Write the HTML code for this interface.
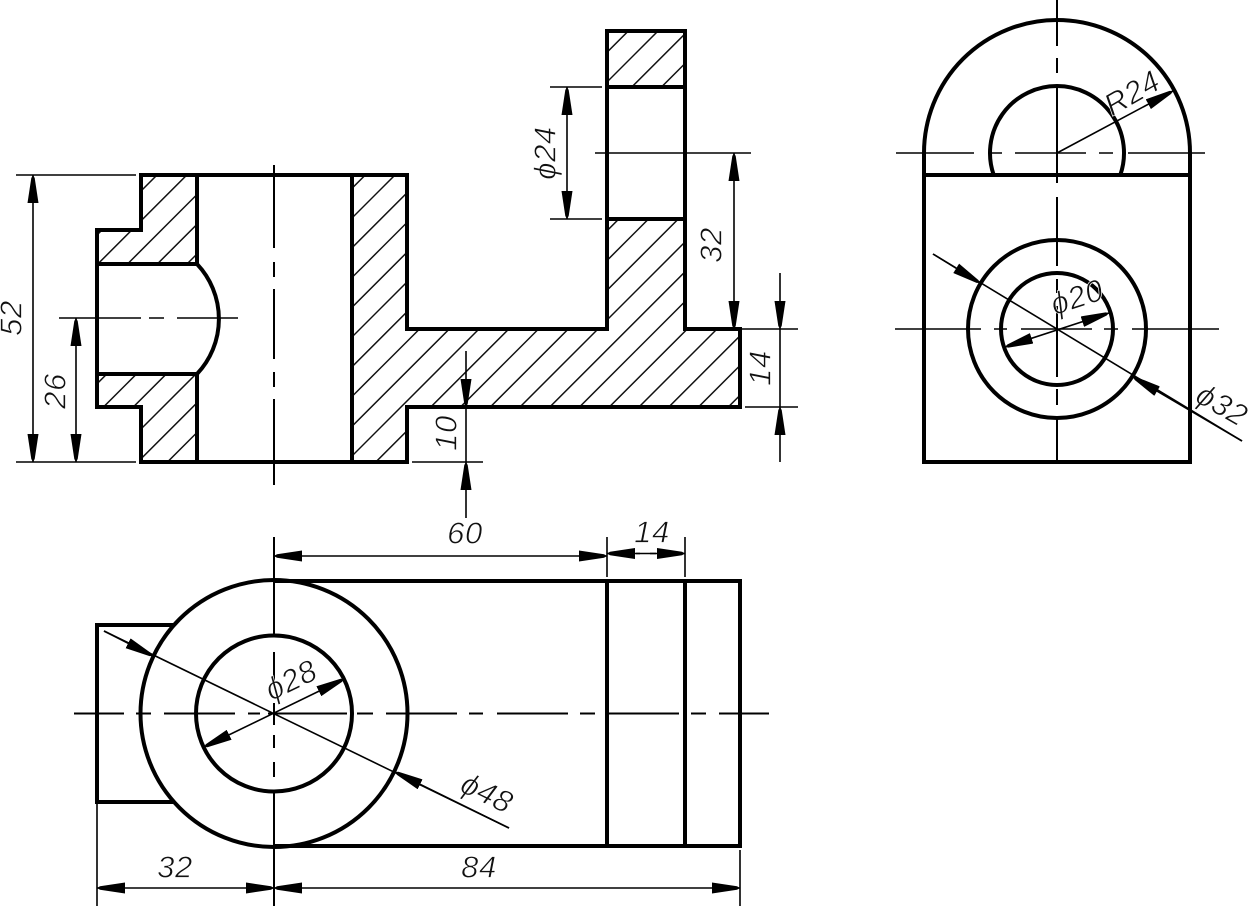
<!DOCTYPE html>
<html>
<head>
<meta charset="utf-8">
<style>
html,body{margin:0;padding:0;background:#fff;width:1248px;height:907px;overflow:hidden}
svg{display:block;overflow:hidden}
text{font-family:"Liberation Sans","DejaVu Sans",sans-serif;font-style:italic;font-size:31px;letter-spacing:.6px;fill:#111;stroke:#fff;stroke-width:.7px;text-anchor:middle;dominant-baseline:central}
.k{fill:none;stroke:#000;stroke-width:4;stroke-linejoin:miter}
.t{fill:none;stroke:#000;stroke-width:1.6}
.c{fill:none;stroke:#000;stroke-width:2}
.h{fill:none;stroke:#111;stroke-width:1.5}
.a{stroke:#000;stroke-width:1.6;fill:none;marker-end:url(#ah)}
.b{stroke:#000;stroke-width:1.6;fill:none;marker-start:url(#ah);marker-end:url(#ah)}
</style>
</head>
<body>
<svg width="1248" height="907" viewBox="0 0 1248 907" xmlns="http://www.w3.org/2000/svg">
<defs>
<marker id="ah" viewBox="0 0 28 11" refX="28" refY="5.5" markerWidth="28" markerHeight="11" markerUnits="userSpaceOnUse" orient="auto-start-reverse">
<polygon points="0,0 25,3.800 28,5.500 25,7.200 0,11" fill="#000"/>
</marker>
<clipPath id="hc">
<polygon points="141,175 197,175 197,264 97,264 97,230 141,230"/>
<polygon points="97,374 197,374 197,462 141,462 141,407 97,407"/>
<polygon points="352,175 407,175 407,329 607,329 607,219 685,219 685,329 740,329 740,407 407,407 407,462 352,462"/>
<polygon points="607,31 685,31 685,87 607,87"/>
</clipPath>
</defs>
<rect width="1248" height="907" fill="#fff"/>

<!-- hatching -->
<path class="h" clip-path="url(#hc)" d="M0 332L332 0M0 361.8L361.8 0M0 391.5L391.5 0M0 421.3L421.3 0M0 451L451 0M10.8 470L480.8 0M40.5 470L510.5 0M70.3 470L540.3 0M100 470L570 0M129.8 470L599.8 0M159.5 470L629.5 0M189.3 470L659.3 0M219 470L689 0M248.8 470L718.8 0M278.5 470L748.5 0M308.3 470L778.3 0M338 470L808 0M367.8 470L837.8 0M397.5 470L867.5 0M427.3 470L897.3 0M457 470L927 0M486.8 470L956.8 0M516.5 470L986.5 0M546.3 470L1016.3 0M576 470L1046 0M605.8 470L1075.8 0M635.5 470L1105.5 0M665.3 470L1135.3 0"/>

<!-- front view outline -->
<path class="k" d="M141 175H407V329H607V31H685V329H740V407H407V462H141V407H97V230H141Z"/>
<path class="k" d="M197 175V264M197 374V462M352 175V462M97 264H197A80 80 0 0 1 197 374H97M607 87H685M607 219H685"/>

<!-- front view centre lines -->
<path class="c" d="M274 165V248M274 262V277M274 289V359M274 372V387M274 399V485"/>
<path class="t" d="M59 318H141M149 318H164M177 318H238M595 153H751"/>

<!-- front view dimensions -->
<path class="t" d="M16 175H136M16 462H136M550 87H602M550 219H602M742 329H798M745 407H798M412 462H483"/>
<line class="b" x1="33" y1="175" x2="33" y2="462"/>
<line class="b" x1="76" y1="318" x2="76" y2="462"/>
<line class="b" x1="567" y1="87" x2="567" y2="219"/>
<line class="b" x1="734" y1="153" x2="734" y2="329"/>
<line class="a" x1="780" y1="273" x2="780" y2="329"/>
<line class="a" x1="780" y1="462" x2="780" y2="407"/>
<path class="t" d="M780 329V407"/>
<line class="a" x1="466" y1="351" x2="466" y2="407"/>
<line class="a" x1="466" y1="518" x2="466" y2="462"/>
<path class="t" d="M466 407V462"/>
<text transform="translate(11,318) rotate(-90)">52</text>
<text transform="translate(55,391) rotate(-90)">26</text>
<text transform="translate(545,153) rotate(-90)">ϕ24</text>
<text transform="translate(711,245) rotate(-90)">32</text>
<text transform="translate(760,368) rotate(-90)">14</text>
<text transform="translate(446,433) rotate(-90)">10</text>

<!-- top view -->
<path class="k" d="M173 625H97V802H173M274 581H740V846H274M607 581V846M685 581V846"/>
<circle class="k" cx="274" cy="713.500" r="133.500"/>
<circle class="k" cx="274" cy="713.500" r="78"/>
<path class="c" d="M274 537V637M274 652V684M274 703V725M274 735V748M274 762V777M274 792V906M74 713.500H124M136 713.500H151M164 713.500H235M248 713.500H260M268 713.500H347M357 713.500H373M386 713.500H457M469 713.500H483M497 713.500H568M580 713.500H595M608 713.500H679M691 713.500H706M719 713.500H769"/>
<path class="t" d="M97 802V906M740 850V906M607 537V577M685 537V577"/>
<line class="b" x1="274" y1="556" x2="607" y2="556"/>
<line class="a" x1="640" y1="553.500" x2="607" y2="553.500"/>
<line class="a" x1="650" y1="553.500" x2="685" y2="553.500"/>
<path class="t" d="M636 553.500H656"/>
<line class="b" x1="97" y1="888" x2="274" y2="888"/>
<line class="b" x1="274" y1="888" x2="740" y2="888"/>
<path class="t" d="M104 631L509 828"/>
<line class="a" x1="104" y1="631" x2="153" y2="656"/>
<line class="a" x1="509" y1="828" x2="395" y2="772"/>
<line class="b" x1="204" y1="747" x2="344" y2="679"/>
<text x="465" y="533">60</text>
<text x="652" y="532">14</text>
<text x="175" y="867">32</text>
<text x="479" y="867">84</text>
<text transform="translate(291,680) rotate(-26)">ϕ28</text>
<text transform="translate(487,793) rotate(26)">ϕ48</text>

<!-- side view -->
<path class="k" d="M924 175V153A133 133 0 0 1 1190 153V462H924V175H1190"/>
<path class="k" d="M993.700 175A67 67 0 1 1 1120.300 175"/>
<circle class="k" cx="1057" cy="329" r="89"/>
<circle class="k" cx="1057" cy="329" r="56"/>
<path class="c" d="M1057 0V46M1057 58V73M1057 87V169M1057 169V183M1057 197V266M1057 279V293M1057 306V377M1057 389V405M1057 418V462"/>
<path class="t" d="M896 153H974M988 153H1002M1015 153H1086M1099 153H1113M1128 153H1205M895 329H981M994 329H1007M1021 329H1092M1104 329H1118M1132 329H1219"/>
<line class="a" x1="1057" y1="153" x2="1173" y2="91"/>
<path class="t" d="M933 254L1242 441"/>
<line class="a" x1="933" y1="254" x2="980" y2="283"/>
<line class="a" x1="1242" y1="441" x2="1133" y2="377"/>
<line class="b" x1="1005" y1="347" x2="1109" y2="313"/>
<text transform="translate(1132,93) rotate(-30)">R24</text>
<text transform="translate(1077,297) rotate(-18)">ϕ20</text>
<text transform="translate(1222,405) rotate(30)">ϕ32</text>
</svg>
</body>
</html>
